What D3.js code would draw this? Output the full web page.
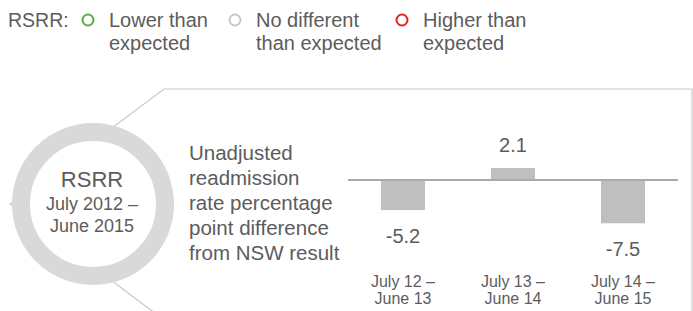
<!DOCTYPE html>
<html>
<head>
<meta charset="utf-8">
<script src="https://cdn.jsdelivr.net/npm/d3@7"></script>
<style>
  body { margin: 0; background: #fff; }
  svg text { font-family: "Liberation Sans", Arial, sans-serif; fill: #5c5c5c; }
</style>
</head>
<body>
<div id="chart"></div>
<script>
// data
const periods = ["July 12 – June 13", "July 13 – June 14", "July 14 – June 15"];
const periodLines = [["July 12 –", "June 13"], ["July 13 –", "June 14"], ["July 14 –", "June 15"]];
const values = [-5.2, 2.1, -7.5];
const legendLabels = [["Lower than", "expected"], ["No different", "than expected"], ["Higher than", "expected"]];
const legendColors = ["#5aac44", "#c8c8c8", "#e8201f"];
const legendX = [88, 235, 402];
const descLines = ["Unadjusted", "readmission", "rate percentage", "point difference", "from NSW result"];

const W = 693, H = 311;
const svg = d3.select("#chart").append("svg")
  .attr("width", W)
  .attr("height", H);

// legend
svg.append("text")
  .attr("x", 8).attr("y", 27)
  .style("font-size", "19.5px")
  .text("RSRR:");

const leg = svg.append("g").selectAll("g")
  .data(legendLabels)
  .join("g")
  .attr("transform", (d, i) => "translate(" + legendX[i] + ",0)");

leg.append("circle")
  .attr("cx", 0).attr("cy", 20).attr("r", 5.5)
  .attr("fill", "none")
  .attr("stroke", (d, i) => legendColors[i])
  .attr("stroke-width", 2);

leg.append("text")
  .attr("x", 21).attr("y", 27)
  .style("font-size", "20px")
  .selectAll("tspan")
  .data(d => d)
  .join("tspan")
  .attr("x", 21)
  .attr("dy", (d, i) => i == 0 ? 0 : 23)
  .text(d => d);

// callout frame
svg.append("path")
  .attr("d", "M164,320 L10,204 L164,89 L692,89 L692,320")
  .attr("fill", "none")
  .attr("stroke", "#c8c8c8")
  .attr("stroke-width", 1.2);

// ring
svg.append("circle")
  .attr("cx", 93).attr("cy", 204).attr("r", 72)
  .attr("fill", "#fff")
  .attr("stroke", "#d9d9d9")
  .attr("stroke-width", 18);

svg.append("text")
  .attr("x", 92).attr("y", 187)
  .attr("text-anchor", "middle")
  .style("font-size", "22px")
  .text("RSRR");
svg.append("text")
  .attr("x", 92).attr("y", 210)
  .attr("text-anchor", "middle")
  .style("font-size", "18px")
  .text("July 2012 –");
svg.append("text")
  .attr("x", 92).attr("y", 232)
  .attr("text-anchor", "middle")
  .style("font-size", "18px")
  .text("June 2015");

// description
svg.append("text")
  .attr("x", 189).attr("y", 160)
  .style("font-size", "20.5px")
  .selectAll("tspan")
  .data(descLines)
  .join("tspan")
  .attr("x", 189)
  .attr("dy", (d, i) => i == 0 ? 0 : 25)
  .text(d => d);

// bar chart
const x = d3.scaleBand()
  .domain(periods)
  .range([348, 678])
  .paddingInner(0.6)
  .paddingOuter(0.3);

const y = d3.scaleLinear()
  .domain([-7.5, 2.1])
  .range([223.3, 168]);

svg.append("g").selectAll("rect")
  .data(values)
  .join("rect")
  .attr("x", (d, i) => x(periods[i]))
  .attr("y", d => y(Math.max(0, d)))
  .attr("width", x.bandwidth())
  .attr("height", d => Math.abs(y(d) - y(0)))
  .attr("fill", "#bfbfbf");

// zero line
svg.append("line")
  .attr("x1", 348).attr("x2", 678)
  .attr("y1", y(0)).attr("y2", y(0))
  .attr("stroke", "#a3adab")
  .attr("stroke-width", 2);

// value labels
svg.append("g").selectAll("text")
  .data(values)
  .join("text")
  .attr("x", (d, i) => x(periods[i]) + x.bandwidth() / 2)
  .attr("y", d => d >= 0 ? y(d) - 16 : y(d) + 33)
  .attr("text-anchor", "middle")
  .style("font-size", "20px")
  .text(d => d.toFixed(1));

// category labels
svg.append("g").selectAll("text")
  .data(periodLines)
  .join("text")
  .attr("y", 287)
  .attr("text-anchor", "middle")
  .style("font-size", "16px")
  .each(function(d, i) {
    d3.select(this).selectAll("tspan")
      .data(d)
      .join("tspan")
      .attr("x", x(periods[i]) + x.bandwidth() / 2)
      .attr("dy", (t, j) => j == 0 ? 0 : 17)
      .text(t => t);
  });
</script>
</body>
</html>
